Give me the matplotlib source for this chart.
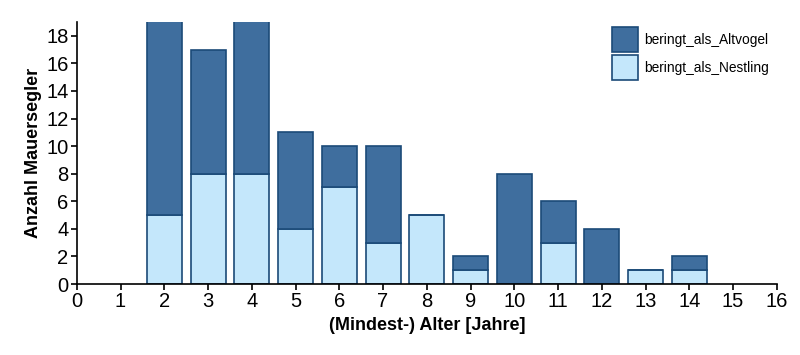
import numpy as np
import matplotlib.pyplot as plt

plt.rcParams['font.family'] = ['Liberation Sans', 'DejaVu Sans']

# Mindest-Alter in Jahren
alter = [2, 3, 4, 5, 6, 7, 8, 9, 10, 11, 12, 13, 14]
# Nestlinge (unten), Altvoegel (oben gestapelt); Werte bei 2 und 4 sind oben abgeschnitten
nestling = [5, 8, 8, 4, 7, 3, 5, 1, 0, 3, 0, 1, 1]
altvogel = [17, 9, 15, 7, 3, 7, 0, 1, 8, 3, 4, 0, 1]

dark = '#3F6E9E'
light = '#C4E7FB'
edge = '#1B4A78'

fig = plt.figure(figsize=(8, 3.55), dpi=100)
ax = fig.add_axes([0.096, 0.2, 0.875, 0.738])

ax.bar(alter, nestling, width=0.8, color=light, edgecolor=edge, linewidth=1.2,
       label='beringt_als_Nestling')
ax.bar(alter, altvogel, width=0.8, bottom=nestling, color=dark, edgecolor=edge,
       linewidth=1.2, label='beringt_als_Altvogel')

ax.set_xlim(0, 16)
ax.set_ylim(0, 19)
ax.set_xticks(np.arange(0, 17, 1))
ax.set_yticks(np.arange(0, 19, 2))
ax.tick_params(labelsize=14.5, length=4, width=1.2, color='black', pad=2)
ax.spines['top'].set_visible(False)
ax.spines['right'].set_visible(False)
ax.spines['left'].set_linewidth(1.2)
ax.spines['bottom'].set_linewidth(1.2)

ax.set_xlabel('(Mindest-) Alter [Jahre]', fontsize=13, fontweight='bold', labelpad=4)
ax.set_ylabel('Anzahl Mauersegler', fontsize=13, fontweight='bold', labelpad=3)

handles, labels = ax.get_legend_handles_labels()
ax.legend(handles[::-1], labels[::-1], loc='upper right', bbox_to_anchor=(1.0, 1.012),
          frameon=False, fontsize=9.9, handlelength=1.9, handleheight=2.45,
          handletextpad=0.4, labelspacing=0.2, borderaxespad=0.2)

fig.savefig('out.png', dpi=100, facecolor='white')
